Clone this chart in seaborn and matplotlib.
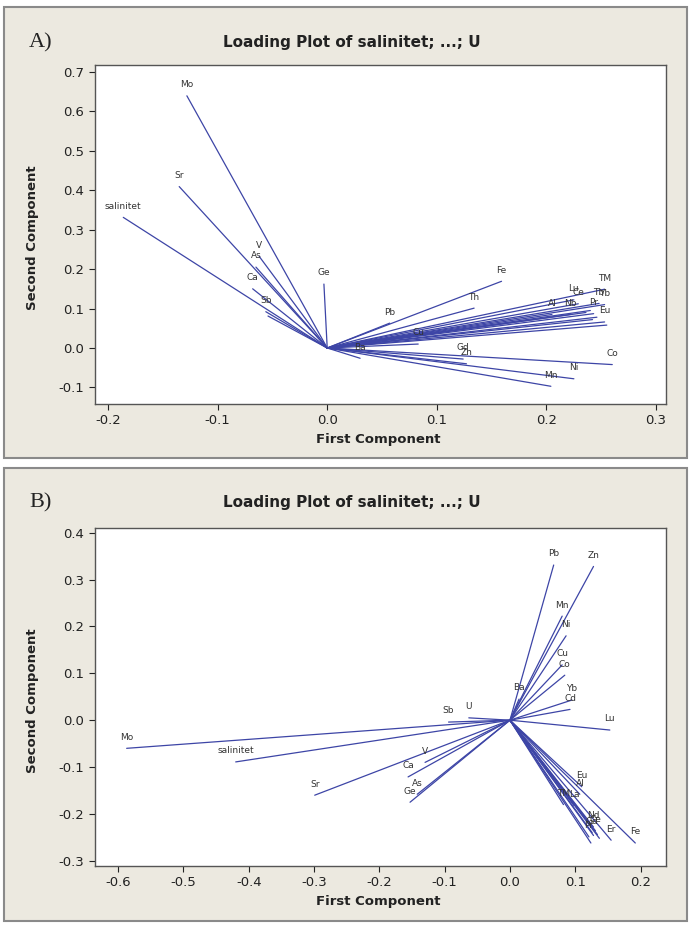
import numpy as np
import pandas as pd
import matplotlib
matplotlib.use("Agg")
import matplotlib.pyplot as plt
import seaborn as sns
from matplotlib.patches import Rectangle

# -------------------------------
# Loadings (first / second component)
# -------------------------------
a_vars = ["salinitet", "Mo", "Sr", "V", "As", "Ca", "Sb", "U", "Ge", "Fe", "Th", "Pb",
          "Cu", "Ba", "Zn", "Gd", "Co", "Ni", "Mn", "TM", "Lu", "Ce", "Al", "Nb",
          "Tb", "Yb", "Pr", "La", "Eu", "Er", "Dy", "Cr", "Ho"]
a_pc1 = [-0.186, -0.128, -0.135, -0.062, -0.065, -0.068, -0.056, -0.054, -0.003, 0.159, 0.134, 0.057,
         0.083, 0.030, 0.127, 0.124, 0.260, 0.225, 0.204, 0.253, 0.225, 0.229, 0.205, 0.222,
         0.248, 0.253, 0.243, 0.240, 0.253, 0.246, 0.242, 0.255, 0.236]
a_pc2 = [0.331, 0.639, 0.409, 0.232, 0.205, 0.150, 0.092, 0.081, 0.162, 0.169, 0.101, 0.063,
         0.010, -0.026, -0.040, -0.028, -0.042, -0.078, -0.097, 0.149, 0.122, 0.112, 0.085, 0.085,
         0.113, 0.110, 0.087, 0.095, 0.066, 0.078, 0.072, 0.058, 0.090]
# labels that can actually be read in panel A (the rest are hidden in the bundle)
a_shown = ["salinitet", "Mo", "Sr", "V", "As", "Ca", "Sb", "Ge", "Fe", "Th", "Pb",
           "Cu", "Ba", "Zn", "Gd", "Co", "Ni", "Mn", "TM", "Lu", "Ce", "Al", "Nb",
           "Tb", "Yb", "Pr", "Eu"]

b_vars = ["salinitet", "Mo", "Sr", "V", "Ca", "As", "Ge", "Sb", "U", "Ba", "Pb", "Zn",
          "Mn", "Ni", "Cu", "Co", "Yb", "Cd", "Lu", "Eu", "Al", "TM", "La", "Nd",
          "Ce", "Gd", "Pr", "Sm", "Er", "Fe", "Th", "Tb", "Dy"]
b_pc1 = [-0.420, -0.587, -0.299, -0.130, -0.156, -0.142, -0.153, -0.094, -0.063, 0.014, 0.067, 0.128,
         0.080, 0.086, 0.080, 0.084, 0.095, 0.092, 0.153, 0.110, 0.107, 0.082, 0.098, 0.128,
         0.131, 0.126, 0.121, 0.134, 0.155, 0.192, 0.124, 0.137, 0.128]
b_pc2 = [-0.089, -0.060, -0.160, -0.090, -0.121, -0.158, -0.175, -0.004, 0.005, 0.045, 0.331, 0.328,
         0.222, 0.180, 0.118, 0.096, 0.043, 0.023, -0.021, -0.142, -0.158, -0.180, -0.182, -0.228,
         -0.236, -0.240, -0.249, -0.244, -0.256, -0.262, -0.262, -0.252, -0.246]
b_shown = ["salinitet", "Mo", "Sr", "V", "Ca", "As", "Ge", "Sb", "U", "Ba", "Pb", "Zn",
           "Mn", "Ni", "Cu", "Co", "Yb", "Cd", "Lu", "Eu", "Al", "TM", "La", "Nd",
           "Ce", "Gd", "Pr", "Er", "Fe"]

a_xticks = [-0.2, -0.1, 0.0, 0.1, 0.2, 0.3]
a_yticks = [-0.1, 0.0, 0.1, 0.2, 0.3, 0.4, 0.5, 0.6, 0.7]
b_xticks = [-0.6, -0.5, -0.4, -0.3, -0.2, -0.1, 0.0, 0.1, 0.2]
b_yticks = [-0.3, -0.2, -0.1, 0.0, 0.1, 0.2, 0.3, 0.4]

title = "Loading Plot of salinitet; ...; U"
line_col = "#3d45a6"
panel_bg = "#ece9e0"

sns.set_theme(style="white")
plt.rcParams["font.family"] = ["DejaVu Sans"]
plt.rcParams["axes.unicode_minus"] = False


def long_form(names, pc1, pc2):
    # each loading vector runs from the origin to its tip
    rows = []
    for n, x, y in zip(names, pc1, pc2):
        rows.append({"var": n, "pc1": 0.0, "pc2": 0.0})
        rows.append({"var": n, "pc1": x, "pc2": y})
    return pd.DataFrame(rows)


def loading_panel(ax, names, pc1, pc2, shown, xlim, ylim, xticks, yticks):
    df = long_form(names, pc1, pc2)
    sns.lineplot(data=df, x="pc1", y="pc2", units="var", estimator=None, sort=False,
                 color=line_col, lw=0.9, ax=ax, legend=False)
    for n, x, y in zip(names, pc1, pc2):
        if n in shown:
            ax.annotate(n, (x, y), xytext=(0, 8), textcoords="offset points",
                        ha="center", va="center", fontsize=6.5, color="#333333")
    ax.set_xlim(xlim)
    ax.set_ylim(ylim)
    ax.set_xticks(xticks)
    ax.set_yticks(yticks)
    ax.set_xticklabels([f"{t:.1f}" for t in xticks])
    ax.set_yticklabels([f"{t:.1f}" for t in yticks])
    ax.tick_params(axis="both", which="major", direction="out", length=4, width=0.8,
                   bottom=True, left=True, labelsize=9.5, colors="#222222")
    ax.set_facecolor("white")
    for s in ax.spines.values():
        s.set_color("#555555")
        s.set_linewidth(1.0)
    ax.set_xlabel("First Component", fontsize=9.5, fontweight="bold", color="#222222")
    ax.set_ylabel("Second Component", fontsize=9.5, fontweight="bold", color="#222222")
    ax.xaxis.set_label_coords(0.496, -0.085)
    ax.yaxis.set_label_coords(-0.098, 0.49)


fig = plt.figure(figsize=(6.9, 9.25), dpi=100)
fig.patch.set_facecolor("white")

# panel frames (grey border, beige background)
fig.patches.append(Rectangle((0.006, 0.505), 0.99, 0.487, transform=fig.transFigure,
                             facecolor=panel_bg, edgecolor="#8a8a8a", lw=1.5, zorder=-10))
fig.patches.append(Rectangle((0.006, 0.004), 0.99, 0.49, transform=fig.transFigure,
                             facecolor=panel_bg, edgecolor="#8a8a8a", lw=1.5, zorder=-10))

ax_a = fig.add_axes([0.1372, 0.5632, 0.828, 0.3665])
ax_b = fig.add_axes([0.1372, 0.0638, 0.828, 0.3654])

loading_panel(ax_a, a_vars, a_pc1, a_pc2, a_shown, (-0.2121, 0.309), (-0.142, 0.717),
              a_xticks, a_yticks)
loading_panel(ax_b, b_vars, b_pc1, b_pc2, b_shown, (-0.636, 0.239), (-0.311, 0.41),
              b_xticks, b_yticks)

fig.text(352 / 690, 1 - 43 / 925, title, ha="center", va="center", fontsize=11,
         fontweight="bold", color="#222222")
fig.text(352 / 690, 1 - 503 / 925, title, ha="center", va="center", fontsize=11,
         fontweight="bold", color="#222222")
fig.text(29 / 690, 1 - 43 / 925, "A)", ha="left", va="center", fontsize=16,
         family="Liberation Serif", color="#222222")
fig.text(29 / 690, 1 - 503 / 925, "B)", ha="left", va="center", fontsize=16,
         family="Liberation Serif", color="#222222")

fig.savefig("out.png", dpi=100, facecolor=fig.get_facecolor())
